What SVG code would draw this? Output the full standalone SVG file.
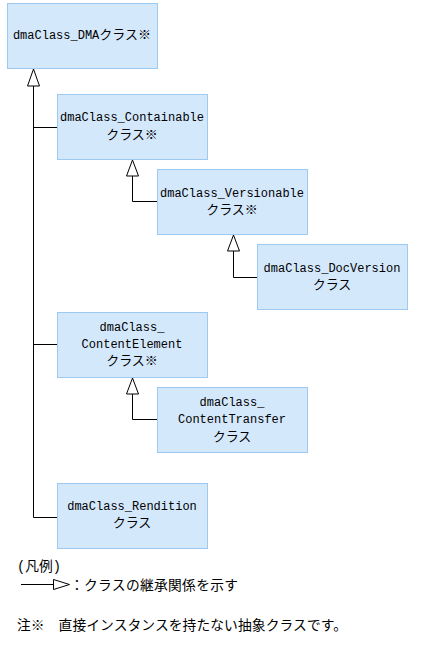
<svg xmlns="http://www.w3.org/2000/svg" width="438" height="646" viewBox="0 0 438 646">
<style>
.box{fill:#d4e8fc;stroke:#9ec9f0;stroke-width:1}
.t{font-family:"Liberation Mono","Noto Sans CJK JP",monospace;font-size:12px;fill:#000;text-anchor:middle}
.j{font-size:13px}
.lg{font-family:"Liberation Mono","Noto Sans CJK JP",monospace;font-size:13.75px;fill:#000}
.ln{fill:none;stroke:#000;stroke-width:1}
.ar{fill:#fff;stroke:#000;stroke-width:1}
</style>
<rect width="438" height="646" fill="#fff"/>
<g id="connectors">
<polyline class="ln" points="33.5,86 33.5,517.5 57,517.5"/>
<line class="ln" x1="33.5" y1="127.5" x2="57" y2="127.5"/>
<line class="ln" x1="33.5" y1="344.5" x2="57" y2="344.5"/>
<polygon class="ar" points="33.5,69 27.5,86 39.5,86"/>
<polyline class="ln" points="132.5,176 132.5,201.5 157,201.5"/>
<polygon class="ar" points="132.5,160 126.5,176 138.5,176"/>
<polyline class="ln" points="233.5,251 233.5,277.5 257,277.5"/>
<polygon class="ar" points="233.5,235 227.5,251 239.5,251"/>
<polyline class="ln" points="132.5,394 132.5,419.5 157,419.5"/>
<polygon class="ar" points="132.5,378 126.5,394 138.5,394"/>
</g>
<g id="dma">
<rect class="box" x="7.5" y="3.5" width="150" height="65"/>
<text class="t" x="82" y="39">dmaClass_DMA<tspan class="j">クラス※</tspan></text>
</g>
<g id="containable">
<rect class="box" x="57.5" y="94.5" width="150" height="65"/>
<text class="t" x="132" y="121">dmaClass_Containable</text>
<text class="t j" x="132" y="139">クラス※</text>
</g>
<g id="versionable">
<rect class="box" x="157.5" y="169.5" width="150" height="65"/>
<text class="t" x="232" y="196.5">dmaClass_Versionable</text>
<text class="t j" x="232" y="214">クラス※</text>
</g>
<g id="docversion">
<rect class="box" x="257.5" y="244.5" width="150" height="65"/>
<text class="t" x="332" y="272">dmaClass_DocVersion</text>
<text class="t j" x="332" y="289">クラス</text>
</g>
<g id="contentelement">
<rect class="box" x="57.5" y="312.5" width="150" height="65"/>
<text class="t" x="132" y="331">dmaClass_</text>
<text class="t" x="132" y="347.5">ContentElement</text>
<text class="t j" x="132" y="364.5">クラス※</text>
</g>
<g id="contenttransfer">
<rect class="box" x="157.5" y="387.5" width="150" height="65"/>
<text class="t" x="232" y="406">dmaClass_</text>
<text class="t" x="232" y="423">ContentTransfer</text>
<text class="t j" x="232" y="440.5">クラス</text>
</g>
<g id="rendition">
<rect class="box" x="57.5" y="483.5" width="150" height="65"/>
<text class="t" x="132" y="509.5">dmaClass_Rendition</text>
<text class="t j" x="132" y="527">クラス</text>
</g>
<g id="legend">
<text class="lg" x="17" y="571">(凡例)</text>
<line class="ln" x1="21" y1="584.5" x2="53" y2="584.5"/>
<polygon class="ar" points="53.5,579.5 53.5,589.5 69.5,584.5"/>
<text class="lg" x="70" y="589.5" textLength="168" lengthAdjust="spacing">：クラスの継承関係を示す</text>
<text class="lg" x="17" y="630" textLength="330" lengthAdjust="spacing">注※　直接インスタンスを持たない抽象クラスです。</text>
</g>
</svg>
